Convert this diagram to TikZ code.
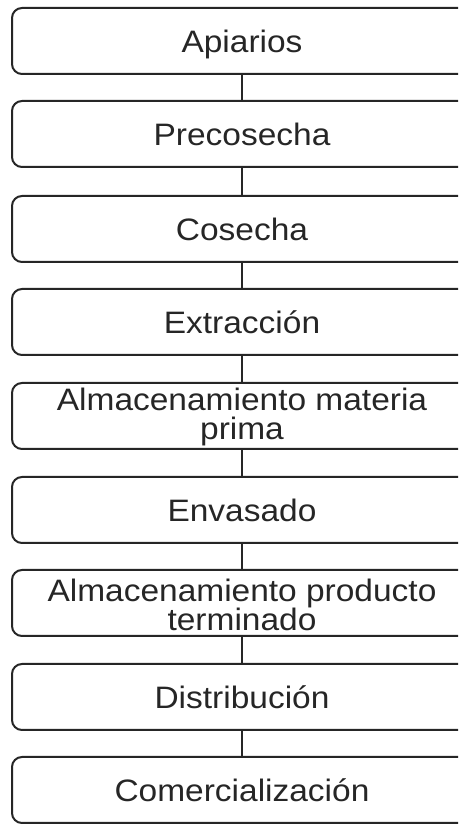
\documentclass[tikz,border=0pt]{standalone}
\usepackage{fontspec}
\newfontfamily\lbfont[FakeStretch=1.08]{Liberation Sans}
\begin{document}
\begin{tikzpicture}[x=1pt,y=1pt,
  box/.style={draw=black!85, line width=2pt, rounded corners=10pt, minimum width=460pt, minimum height=66pt, inner sep=0pt},
  lbl/.style={font=\lbfont\fontsize{31}{29.5}\selectfont, text=black!85, inner sep=0pt, align=center},
  link/.style={draw=black!85, line width=2pt}]
\useasboundingbox (0,0) rectangle (458,824);
\clip (0,0) rectangle (458,824);
\fill[white] (0,0) rectangle (458,824);
% box centres (from top)
\node[box] (b1) at (242,824-41) {};
\node[box] (b2) at (242,824-134) {};
\node[box] (b3) at (242,824-229) {};
\node[box] (b4) at (242,824-322) {};
\node[box] (b5) at (242,824-416) {};
\node[box] (b6) at (242,824-510) {};
\node[box] (b7) at (242,824-603) {};
\node[box] (b8) at (242,824-697) {};
\node[box] (b9) at (242,824-790) {};
\node[lbl, anchor=base] (t1) at ([yshift=-12]b1.center) {Apiarios};
\node[lbl, anchor=base] (t2) at ([yshift=-12]b2.center) {Precosecha};
\node[lbl, anchor=base] (t3) at ([yshift=-12]b3.center) {Cosecha};
\node[lbl, anchor=base] (t4) at ([yshift=-12]b4.center) {Extracción};
\node[lbl, anchor=base] (t5) at ([yshift=-24]b5.center) {Almacenamiento materia\\prima};
\node[lbl, anchor=base] (t6) at ([yshift=-12]b6.center) {Envasado};
\node[lbl, anchor=base] (t7) at ([yshift=-28]b7.center) {Almacenamiento producto\\terminado};
\node[lbl, anchor=base] (t8) at ([yshift=-12]b8.center) {Distribución};
\node[lbl, anchor=base] (t9) at ([yshift=-12]b9.center) {Comercialización};
\foreach \a/\b in {b1/b2,b2/b3,b3/b4,b4/b5,b5/b6,b6/b7,b7/b8,b8/b9}
  \draw[link] (\a.south) -- (\b.north);
\end{tikzpicture}
\end{document}
